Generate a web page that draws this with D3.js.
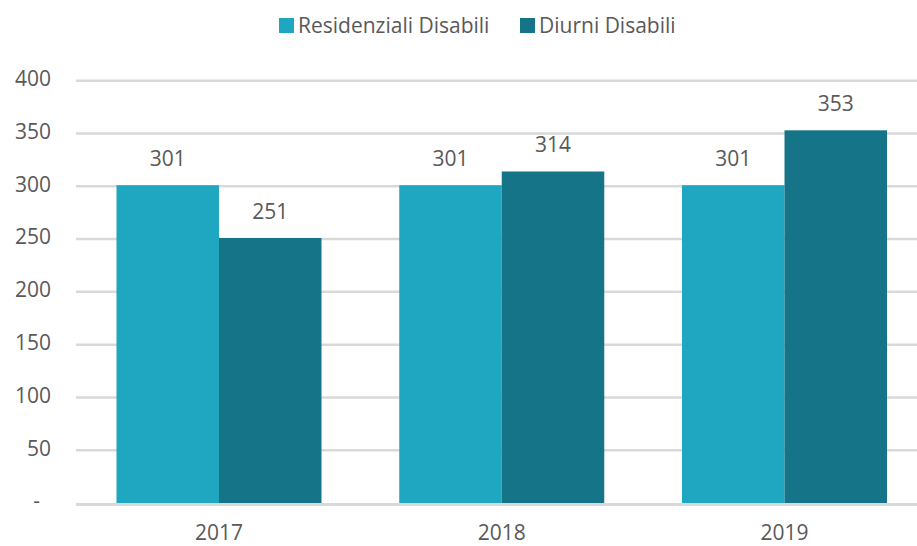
<!DOCTYPE html>
<html>
<head>
  <meta charset="utf-8">
  <script src="https://d3js.org/d3.v7.min.js"></script>
  <style>
    body { margin: 0; background: #fff; }
    svg text { font-family: "Open Sans", "Noto Sans", sans-serif; fill: #595959; }
  </style>
</head>
<body>
<script>
  // data
  var years = ["2017", "2018", "2019"];
  var seriesNames = ["Residenziali Disabili", "Diurni Disabili"];
  var residenziali = [301, 301, 301];
  var diurni = [251, 314, 353];
  var yTicks = [0, 50, 100, 150, 200, 250, 300, 350, 400];
  var yTickLabels = ["-", "50", "100", "150", "200", "250", "300", "350", "400"];
  var colors = ["#1fa6c1", "#157487"];

  var width = 917, height = 546;

  var svg = d3.select("body").append("svg")
    .attr("width", width)
    .attr("height", height);

  var rows = years.map(function (y, i) {
    return { year: y, values: [residenziali[i], diurni[i]] };
  });

  var x0 = d3.scaleBand()
    .domain(years)
    .range([77.6, 925.9])
    .paddingInner(0.275)
    .paddingOuter(0.1375);

  var x1 = d3.scaleBand()
    .domain([0, 1])
    .range([0, x0.bandwidth()]);

  var y = d3.scaleLinear()
    .domain([0, 400])
    .range([503, 80.7]);

  // gridlines
  svg.append("g")
    .selectAll("line")
    .data(yTicks)
    .join("line")
    .attr("x1", 76)
    .attr("x2", width)
    .attr("y1", function (d) { return d === 0 ? y(d) + 1.5 : y(d); })
    .attr("y2", function (d) { return d === 0 ? y(d) + 1.5 : y(d); })
    .attr("stroke", "#d9d9d9")
    .attr("stroke-width", function (d) { return d === 0 ? 3 : 2.5; });

  // y labels
  svg.append("g")
    .selectAll("text")
    .data(yTicks)
    .join("text")
    .attr("x", function (d) { return d === 0 ? 40 : 51; })
    .attr("y", function (d) { return y(d) - 2; })
    .attr("dy", "0.35em")
    .attr("text-anchor", "end")
    .style("font-size", "21px")
    .text(function (d, i) { return yTickLabels[i]; });

  // bars
  var groups = svg.append("g")
    .selectAll("g")
    .data(rows)
    .join("g")
    .attr("transform", function (d) { return "translate(" + x0(d.year) + ",0)"; });

  groups.selectAll("rect")
    .data(function (d) { return d.values; })
    .join("rect")
    .attr("x", function (d, i) { return x1(i); })
    .attr("y", function (d) { return y(d); })
    .attr("width", x1.bandwidth())
    .attr("height", function (d) { return y(0) - y(d); })
    .attr("fill", function (d, i) { return colors[i]; });

  // value labels
  groups.selectAll("text")
    .data(function (d) { return d.values; })
    .join("text")
    .attr("x", function (d, i) { return x1(i) + x1.bandwidth() / 2; })
    .attr("y", function (d) { return y(d) - 19.5; })
    .attr("text-anchor", "middle")
    .style("font-size", "21px")
    .text(function (d) { return d; });

  // x labels
  svg.append("g")
    .selectAll("text")
    .data(years)
    .join("text")
    .attr("x", function (d) { return x0(d) + x0.bandwidth() / 2; })
    .attr("y", 540)
    .attr("text-anchor", "middle")
    .style("font-size", "21px")
    .text(function (d) { return d; });

  // legend
  var legend = svg.append("g");
  var legendX = [279, 520];
  seriesNames.forEach(function (name, i) {
    legend.append("rect")
      .attr("x", legendX[i])
      .attr("y", 18)
      .attr("width", 15)
      .attr("height", 15)
      .attr("fill", colors[i]);
    legend.append("text")
      .attr("x", legendX[i] + 19)
      .attr("y", 25.5)
      .attr("dy", "0.35em")
      .style("font-size", "21px")
      .text(name);
  });
</script>
</body>
</html>
